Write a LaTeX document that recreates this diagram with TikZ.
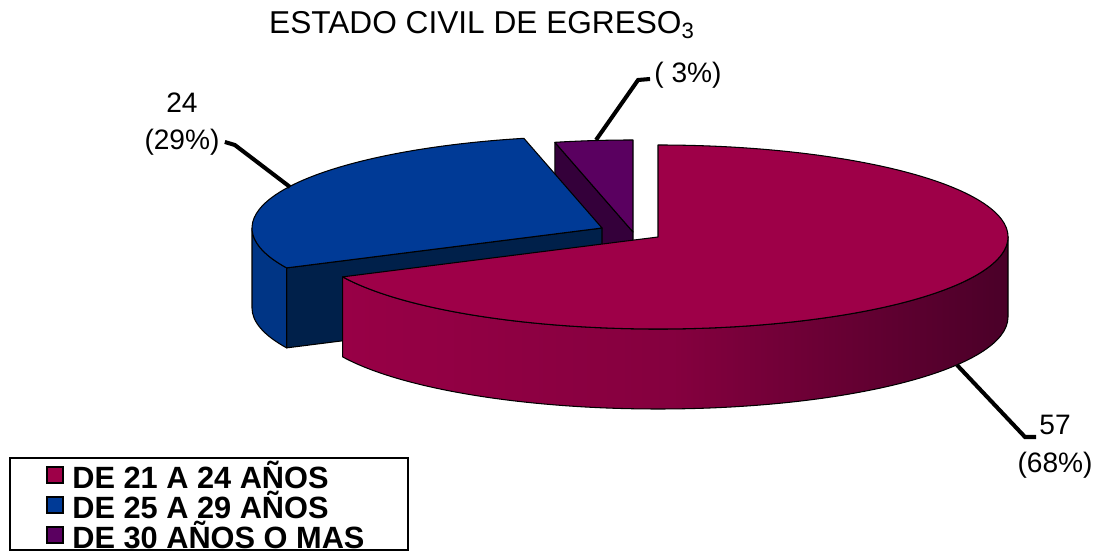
\documentclass[tikz,border=0pt]{standalone}
\usepackage{fontspec}
\setmainfont{Liberation Sans}
\definecolor{rojo}{HTML}{9E0048}
\definecolor{rojolado}{HTML}{980046}
\definecolor{rojooscuro}{HTML}{4A0028}
\definecolor{azul}{HTML}{003A96}
\definecolor{azullado}{HTML}{003585}
\definecolor{azulcorte}{HTML}{00204A}
\definecolor{morado}{HTML}{5A0060}
\definecolor{moradocorte}{HTML}{34003A}

\begin{document}
\begin{tikzpicture}[x=0.02cm,y=0.02cm,
    borde/.style={draw=black,line width=0.6pt,line join=round},
    guia/.style={line width=2.3pt,line join=miter},
    etiqueta/.style={font=\fontsize{16}{18}\selectfont,inner sep=0pt},
    leyenda/.style={font=\bfseries\fontsize{17.5}{19}\selectfont,anchor=west,inner sep=0pt},
    cuadro/.style={draw=black,line width=1.4pt,minimum size=9pt,inner sep=0pt}]
    \useasboundingbox (0,0) rectangle (1103,554);
    % define variables.
    \def\rx{350}
    \def\ry{92}
    \def\alto{80}
    \def\crojo{(658,317)}
    \def\cazul{(602,326)}
    \def\cmorado{(633,322)}
    % draw the purple slice
    \fill[moradocorte,borde] \cmorado -- ++(102.9:\rx\space and \ry) -- ++(0,-\alto) -- ++(-77.1:\rx\space and \ry) -- cycle;
    \fill[morado,borde] \cmorado -- ++(90:\rx\space and \ry)
        arc[start angle=90,end angle=102.9,x radius=\rx,y radius=\ry] -- cycle;
    % draw the blue slice
    \fill[azulcorte,borde] \cazul -- ++(205.7:\rx\space and \ry) -- ++(0,-\alto) -- ++(25.7:\rx\space and \ry) -- cycle;
    \fill[azullado,borde] \cazul ++(180:\rx\space and \ry)
        arc[start angle=180,end angle=205.7,x radius=\rx,y radius=\ry] -- ++(0,-\alto)
        arc[start angle=205.7,end angle=180,x radius=\rx,y radius=\ry] -- cycle;
    \fill[azul,borde] \cazul -- ++(102.9:\rx\space and \ry)
        arc[start angle=102.9,end angle=205.7,x radius=\rx,y radius=\ry] -- cycle;
    % draw the red slice
    \shade[left color=rojolado,right color=rojooscuro,middle color=rojolado!75!rojooscuro]
        \crojo ++(205.7:\rx\space and \ry)
        arc[start angle=205.7,end angle=360,x radius=\rx,y radius=\ry] -- ++(0,-\alto)
        arc[start angle=360,end angle=205.7,x radius=\rx,y radius=\ry] -- cycle;
    \draw[borde] \crojo ++(205.7:\rx\space and \ry)
        arc[start angle=205.7,end angle=360,x radius=\rx,y radius=\ry] -- ++(0,-\alto)
        arc[start angle=360,end angle=205.7,x radius=\rx,y radius=\ry] -- cycle;
    \fill[rojo,borde] \crojo -- ++(205.7:\rx\space and \ry)
        arc[start angle=205.7,end angle=450,x radius=\rx,y radius=\ry] -- cycle;
    % anchor points of the labels
    \coordinate (ca) at (290,367);
    \coordinate (cm) at (596,414);
    \coordinate (cr) at (957,189);
    % draw the labels
    \node[font=\fontsize{18}{20}\selectfont,inner sep=0pt] (titulo) at (482,529) {ESTADO CIVIL DE EGRESO\textsubscript{3}};
    \node[etiqueta] (n24) at (182,451) {24};
    \node[etiqueta] (p29) at (182,412) {(29\%)};
    \node[etiqueta] (p3) at (688,479) {( 3\%)};
    \node[etiqueta] (n57) at (1055,129) {57};
    \node[etiqueta] (p68) at (1055,89) {(68\%)};
    \draw[guia] (p29.east) ++(5,0) -- ++(10,-3) -- (ca);
    \draw[guia] (p3.west) ++(-4,-4) -- ++(-12,-1) -- (cm);
    \draw[guia] (cr) -- ++(68,-72) -- ++(11,0);
    % draw the legend
    \draw[line width=1pt] (10,4) rectangle (408,96);
    \node[cuadro,fill=rojo] (l1) at (55,79) {};
    \node[cuadro,fill=azul] (l2) at (55,49) {};
    \node[cuadro,fill=morado] (l3) at (55,19) {};
    \node[leyenda] (t1) at (72,79) {DE 21 A 24 AÑOS};
    \node[leyenda] (t2) at (72,49) {DE 25 A 29 AÑOS};
    \node[leyenda] (t3) at (72,19) {DE 30 AÑOS O MAS};
\end{tikzpicture}
\end{document}
